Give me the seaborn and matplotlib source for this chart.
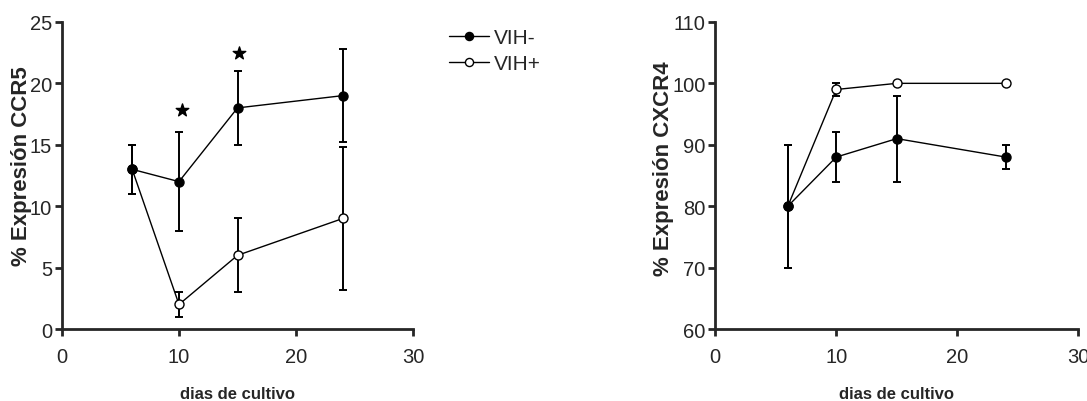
import matplotlib
matplotlib.use('Agg')
import matplotlib.pyplot as plt
import seaborn as sns
import pandas as pd

# datos
dias = [6, 10, 15, 24]
ccr5_neg = [13, 12, 18, 19]
ccr5_neg_err = [2, 4, 3, 3.8]
ccr5_pos = [13, 2, 6, 9]
ccr5_pos_err = [2, 1, 3, 5.8]
cxcr4_neg = [80, 88, 91, 88]
cxcr4_neg_err = [10, 4, 7, 2]
cxcr4_pos = [80, 99, 100, 100]
cxcr4_pos_err = [10, 1, 0, 0]
grupos = ['VIH-', 'VIH+']
estrellas_x = [10.25, 15.1]
estrellas_y = [17.8, 22.5]

sns.set_style('ticks')
plt.rcParams['font.family'] = ['Liberation Sans', 'DejaVu Sans']


def panel(ax, neg, neg_err, pos, pos_err, ylim, yticks, ylabel):
    df = pd.DataFrame({'dias': dias * 2, 'valor': neg + pos,
                       'grupo': [grupos[0]] * 4 + [grupos[1]] * 4})
    for g, vals, err, fc in [(grupos[1], pos, pos_err, 'white'),
                             (grupos[0], neg, neg_err, 'black')]:
        ax.errorbar(dias, vals, yerr=err, fmt='none', ecolor='black',
                    elinewidth=1.4, capsize=3.2, capthick=1.4, zorder=2)
        sns.lineplot(data=df[df.grupo == g], x='dias', y='valor', ax=ax,
                     color='black', lw=1.0, marker='o', markersize=6.5,
                     markerfacecolor=fc, markeredgecolor='black',
                     markeredgewidth=1.0, zorder=3, label=g, legend=False)
    ax.set_xlim(0, 30)
    ax.set_ylim(*ylim)
    ax.set_xticks([0, 10, 20, 30])
    ax.set_yticks(yticks)
    ax.set_xlabel('dias de cultivo', fontsize=12, fontweight='bold', labelpad=14)
    ax.set_ylabel(ylabel, fontsize=16, fontweight='bold', labelpad=3)
    ax.tick_params(labelsize=14.5, width=2, length=5)
    ax.tick_params(axis='x', pad=8)
    ax.tick_params(axis='y', pad=2)
    for s in ['left', 'bottom']:
        ax.spines[s].set_linewidth(2)
    sns.despine(ax=ax)


fig = plt.figure(figsize=(10.87, 4.02), dpi=100)
ax1 = fig.add_axes([0.057, 0.179, 0.323, 0.764])
ax2 = fig.add_axes([0.658, 0.179, 0.334, 0.764])

panel(ax1, ccr5_neg, ccr5_neg_err, ccr5_pos, ccr5_pos_err, (0, 25),
      [0, 5, 10, 15, 20, 25], '% Expresión CCR5')
panel(ax2, cxcr4_neg, cxcr4_neg_err, cxcr4_pos, cxcr4_pos_err, (60, 110),
      [60, 70, 80, 90, 100, 110], '% Expresión CXCR4')

# etiquetas del eje y algo más arriba, como en el original
ax1.yaxis.set_label_coords(-0.086, 0.535)
ax2.yaxis.set_label_coords(-0.113, 0.525)

ax1.scatter(estrellas_x, estrellas_y, marker='*', s=90, color='black', zorder=4)

h, l = ax1.get_legend_handles_labels()
orden = [l.index('VIH-'), l.index('VIH+')]
fig.legend([h[i] for i in orden], [l[i] for i in orden], loc='upper left',
           bbox_to_anchor=(0.396, 0.975), frameon=False, fontsize=15,
           handlelength=1.9, handletextpad=0.25, labelspacing=0.35, markerscale=0.9)

plt.savefig('out.png', dpi=100)
